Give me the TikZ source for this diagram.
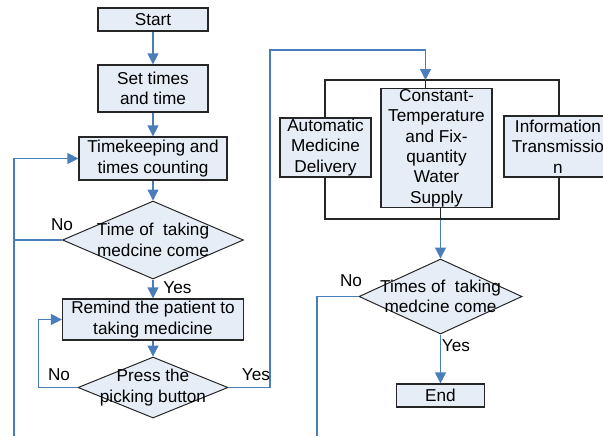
\documentclass[tikz,border=0pt]{standalone}
\usepackage{fontspec}
\setmainfont{Liberation Sans}
\usetikzlibrary{arrows.meta,shapes.geometric,positioning}
\definecolor{fblue}{HTML}{4A7EBB}
\definecolor{ffill}{HTML}{E7EDF7}
\definecolor{fedge}{HTML}{262626}
\newcommand\ftext{\fontsize{8.6}{10.2}\selectfont}
\tikzset{
  >={Triangle[length=5.5pt,width=5.5pt]},
  fbox/.style={rectangle, draw=fedge, fill=ffill, line width=0.6pt,
               align=center, inner sep=0.5pt, font=\ftext},
  fdec/.style={diamond, draw=fedge, fill=ffill, line width=0.5pt,
               inner sep=0pt},
  fgroup/.style={rectangle, draw=fedge, line width=0.6pt},
  fwire/.style={draw=fedge, line width=0.6pt},
  fflow/.style={fblue, line width=0.6pt},
  farrow/.style={->, fblue, line width=0.6pt},
  flbl/.style={font=\ftext, inner sep=0pt, align=center},
}

\begin{document}
\begin{tikzpicture}[x=0.5pt,y=-0.5pt]
  \useasboundingbox (0,0) rectangle (603,436);

  % left column
  \node[fbox, minimum width=55pt, minimum height=11.5pt] (start) at (153,19.5) {Start};
  \node[fbox, minimum width=55pt, minimum height=23.5pt] (setn) at (153,88.5) {Set times\\and time};
  \node[fbox, minimum width=74pt, minimum height=21.5pt] (keep) at (153,158.5) {Timekeeping and\\times counting};
  \node[fdec, minimum width=90.5pt, minimum height=39pt,
        label={[flbl]center:Time of \ taking\\medcine come}] (chk) at (153,240) {};
  \node[fbox, minimum width=90.5pt, minimum height=20.5pt] (remind) at (153,319.5) {Remind the patient to\\taking medicine};
  \node[fdec, minimum width=75pt, minimum height=30.5pt,
        label={[flbl]center:Press the\\picking button}] (press) at (153,387.5) {};

  % right part
  \node[fgroup, minimum width=117pt, minimum height=69.5pt] (grp) at (442,149.5) {};
  \node[fbox, minimum width=45.5pt, minimum height=29.5pt] (auto) at (325.5,147.5) {Automatic\\Medicine\\Delivery};
  \node[fbox, minimum width=55.5pt, minimum height=59pt] (ctemp) at (436.5,148) {Constant-\\Temperature\\and Fix-\\quantity\\Water\\Supply};
  \node[fbox, minimum width=54pt, minimum height=30.5pt] (info) at (558,146.5) {Information\\Transmissio\\n};
  \node[fdec, minimum width=81.5pt, minimum height=37.5pt,
        label={[flbl]center:Times of \ taking\\medcine come}] (chk2) at (440.5,296.5) {};
  \node[fbox, minimum width=44pt, minimum height=11.5pt] (fin) at (440.5,395.5) {End};

  \coordinate (grpin) at (425.5,80);
  \coordinate (upR) at (270,50);
  \coordinate (lowL) at (14,436);
  \coordinate (lowR) at (317,436);

  % connectors
  \draw[farrow] (start) -- (setn);
  \draw[farrow] (setn) -- (keep);
  \draw[farrow] (keep) -- (chk);
  \draw[farrow] (chk) -- (remind);
  \draw[farrow] (remind) -- (press);
  \draw[fflow] (chk.west) -| (lowL);
  \draw[farrow] (chk.west -| lowL) |- (keep.west);
  \draw[farrow] (press.west) -- ++(-39,0) |- (remind.west);
  \draw[farrow] (press.east) -| (upR) -| (grpin);
  \draw[fwire] (grpin) -- (grpin |- ctemp.north);
  \draw[fwire] (chk2 |- ctemp.south) -- (chk2 |- grp.south);
  \draw[farrow] (chk2 |- grp.south) -- (chk2);
  \draw[farrow] (chk2) -- (fin);
  \draw[fflow] (chk2.west) -| (lowR);

  % branch labels
  \node[flbl] (no1) at (62,225) {No};
  \node[flbl] (yes1) at (177.5,288) {Yes};
  \node[flbl] (no2) at (59,375) {No};
  \node[flbl] (yes2) at (256,375) {Yes};
  \node[flbl] (no3) at (351,281) {No};
  \node[flbl] (yes3) at (456,346) {Yes};
\end{tikzpicture}
\end{document}
